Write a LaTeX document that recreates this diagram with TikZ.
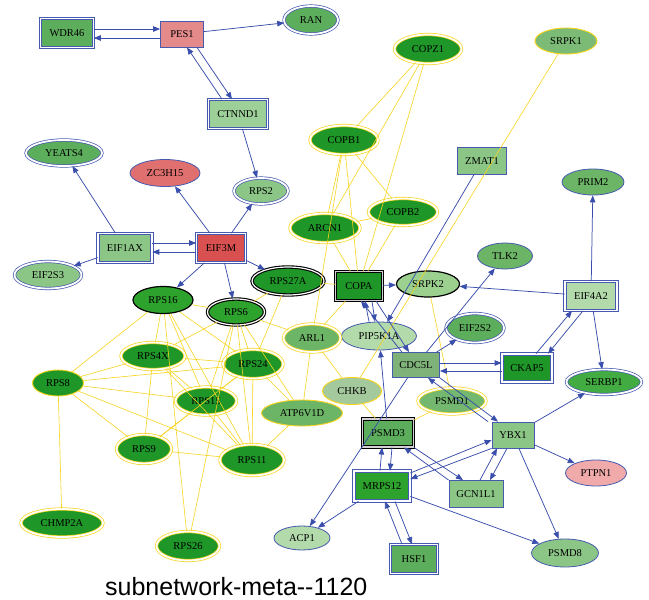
\documentclass[tikz,border=0pt]{standalone}
\usepackage{fontspec}
\setmainfont{Liberation Serif}
\newfontfamily\titlefont{Liberation Sans}
\usetikzlibrary{shapes.geometric,arrows.meta}
\definecolor{eblue}{RGB}{58,78,172}
\definecolor{nblue}{RGB}{70,90,175}
\definecolor{eyel}{RGB}{248,212,30}
\definecolor{dkg}{RGB}{30,150,40}
\definecolor{rg}{RGB}{45,162,45}
\definecolor{mg}{RGB}{92,173,92}
\definecolor{g2}{RGB}{108,180,102}
\definecolor{lg}{RGB}{140,198,134}
\definecolor{vlg}{RGB}{178,218,170}
\definecolor{sg}{RGB}{155,208,143}
\definecolor{pes}{RGB}{228,138,138}
\definecolor{redm}{RGB}{217,80,80}
\definecolor{zc}{RGB}{224,112,112}
\definecolor{ptp}{RGB}{240,170,170}
\begin{document}
\begin{tikzpicture}[x=1pt,y=-1pt,
  every node/.style={inner sep=0pt, font=\fontsize{10.5}{12}\selectfont},
  rb/.style={rectangle, draw=nblue, line width=0.8pt},
  rdb/.style={rectangle, draw=nblue, double=white, double distance=1.8pt, line width=0.7pt},
  rbk/.style={rectangle, draw=black, double=gray!35, double distance=1.4pt, line width=1pt},
  eb/.style={ellipse, draw=nblue, line width=0.8pt},
  edb/.style={ellipse, draw=nblue, double=white, double distance=1.8pt, line width=0.7pt},
  ey/.style={ellipse, draw=eyel, line width=0.9pt},
  edy/.style={ellipse, draw=eyel, double=white, double distance=1.8pt, line width=0.7pt},
  ebk/.style={ellipse, draw=black, line width=1.2pt},
  ebt/.style={ellipse, draw=black, double=white, double distance=1.2pt, line width=1.1pt},
  be/.style={draw=eblue, line width=0.75pt, -{Triangle[length=7pt,width=5.5pt]}},
  ye/.style={draw=eyel, line width=0.6pt}
]
\fill[white] (0,0) rectangle (649,600);
\useasboundingbox (0,0) rectangle (649,600);

% rectangles, double blue
\node[rdb, fill=mg, minimum width=53, minimum height=29] (WDR46) at (67,33) {WDR46};
\node[rdb, fill=lg!85!white, minimum width=59, minimum height=29] (CTNND1) at (238,114) {CTNND1};
\node[rdb, fill=lg, minimum width=54, minimum height=29] (EIF1AX) at (125,248) {EIF1AX};
\node[rdb, fill=redm, minimum width=49, minimum height=29] (EIF3M) at (221,248) {EIF3M};
\node[rdb, fill=vlg, minimum width=52, minimum height=29] (EIF4A2) at (591,296) {EIF4A2};
\node[rdb, fill=dkg, minimum width=50, minimum height=28] (CKAP5) at (527,368) {CKAP5};
\node[rdb, fill=rg, minimum width=56, minimum height=30] (MRPS12) at (382,486) {MRPS12};
\node[rdb, fill=mg, minimum width=47, minimum height=29] (HSF1) at (414,559) {HSF1};
% rectangles, single blue
\node[rb, fill=pes, minimum width=43, minimum height=26] (PES1) at (182,34) {PES1};
\node[rb, fill=lg, minimum width=49, minimum height=27] (ZMAT1) at (482,161) {ZMAT1};
\node[rb, fill=lg!90!black, minimum width=47, minimum height=25] (CDC5L) at (416,365) {CDC5L};
\node[rb, fill=lg, minimum width=42, minimum height=26] (YBX1) at (513,435) {YBX1};
\node[rb, fill=lg, minimum width=54, minimum height=27] (GCN1L1) at (476,494) {GCN1L1};
% rectangles, double black
\node[rbk, fill=dkg, minimum width=47, minimum height=29] (COPA) at (359,286) {COPA};
\node[rbk, fill=mg, minimum width=51, minimum height=28] (PSMD3) at (388,433) {PSMD3};
% ellipses, double blue
\node[edb, fill=mg, minimum width=54, minimum height=28] (RAN) at (311,20) {RAN};
\node[edb, fill=mg, minimum width=76, minimum height=26] (YEATS4) at (64,153) {YEATS4};
\node[edb, fill=lg, minimum width=54, minimum height=26] (RPS2) at (261,191) {RPS2};
\node[edb, fill=lg, minimum width=67, minimum height=27] (EIF2S3) at (48,275) {EIF2S3};
\node[edb, fill=mg, minimum width=58, minimum height=29] (EIF2S2) at (475,328) {EIF2S2};
\node[edb, fill=rg!90!white, minimum width=75, minimum height=25] (SERBP1) at (604,382) {SERBP1};
% ellipses, single blue
\node[eb, fill=zc, minimum width=70, minimum height=27] (ZC3H15) at (165,173) {ZC3H15};
\node[eb, fill=g2, minimum width=62, minimum height=26] (PRIM2) at (593,182) {PRIM2};
\node[eb, fill=g2, minimum width=55, minimum height=26] (TLK2) at (505,256) {TLK2};
\node[eb, fill=vlg, minimum width=75, minimum height=28] (PIP5K1A) at (379,336) {PIP5K1A};
\node[eb, fill=ptp, minimum width=61, minimum height=26] (PTPN1) at (596,473) {PTPN1};
\node[eb, fill=vlg, minimum width=56, minimum height=24] (ACP1) at (302,538) {ACP1};
\node[eb, fill=lg, minimum width=67, minimum height=28] (PSMD8) at (565,553) {PSMD8};
% ellipses, double yellow
\node[edy, fill=dkg, minimum width=67, minimum height=29] (COPZ1) at (428,49) {COPZ1};
\node[edy, fill=dkg, minimum width=68, minimum height=29] (COPB1) at (344,140) {COPB1};
\node[edy, fill=dkg, minimum width=69, minimum height=27] (COPB2) at (403,212) {COPB2};
\node[edy, fill=dkg, minimum width=70, minimum height=29] (ARCN1) at (325,228) {ARCN1};
\node[edy, fill=g2, minimum width=57, minimum height=28] (ARL1) at (312,338) {ARL1};
\node[edy, fill=g2!95!white, minimum width=68, minimum height=26] (PSMD1) at (452,401) {PSMD1};
\node[edy, fill=dkg, minimum width=64, minimum height=27] (RPS4X) at (153,356) {RPS4X};
\node[edy, fill=dkg, minimum width=60, minimum height=29] (RPS24) at (253,364) {RPS24};
\node[edy, fill=dkg, minimum width=61, minimum height=28] (RPS15) at (206,401) {RPS15};
\node[edy, fill=dkg, minimum width=55, minimum height=29] (RPS9) at (144,449) {RPS9};
\node[edy, fill=dkg, minimum width=64, minimum height=31] (RPS11) at (252,460) {RPS11};
\node[edy, fill=dkg, minimum width=82, minimum height=28] (CHMP2A) at (62,523) {CHMP2A};
\node[edy, fill=dkg, minimum width=63, minimum height=29] (RPS26) at (188,546) {RPS26};
% ellipses, single yellow
\node[ey, fill=g2!90!white, minimum width=62, minimum height=26] (SRPK1) at (566,41) {SRPK1};
\node[ey, fill=dkg, minimum width=51, minimum height=26] (RPS8) at (58,383) {RPS8};
\node[ey, fill=g2, minimum width=81, minimum height=26] (ATP6V1D) at (302,413) {ATP6V1D};
\node[ey, fill=vlg!92!black, minimum width=59, minimum height=27] (CHKB) at (352,391) {CHKB};
% ellipses, black
\node[ebk, fill=rg, minimum width=60, minimum height=27] (RPS16) at (163,300) {RPS16};
\node[ebk, fill=sg, minimum width=63, minimum height=26] (SRPK2) at (428,284) {SRPK2};
\node[ebt, fill=dkg, minimum width=72, minimum height=28] (RPS27A) at (288,281) {RPS27A};
\node[ebt, fill=rg, minimum width=57, minimum height=26] (RPS6) at (236,312) {RPS6};

% title
\node[anchor=base west, font=\titlefont\fontsize{25}{30}\selectfont] (title) at (105,595) {subnetwork-meta--1120};

% yellow edges
\foreach \a/\b in {COPZ1/COPB1, COPZ1/ARCN1, COPZ1/COPA,
  COPB1/COPB2, COPB1/COPA, COPB1/ARL1, COPB1/ARCN1,
  ARCN1/COPB2, ARCN1/COPA, COPB2/COPA, SRPK1/CHKB,
  COPA/RPS27A, COPA/ARL1, SRPK2/PSMD1, CHKB/PSMD3, PSMD1/PSMD3,
  ARL1/CHKB, ARL1/ATP6V1D, RPS6/ARL1,
  RPS16/RPS6, RPS16/RPS8, RPS16/RPS4X, RPS16/RPS15, RPS16/RPS11, RPS16/RPS24, RPS16/RPS26,
  RPS6/RPS4X, RPS6/RPS24, RPS6/RPS15, RPS6/RPS11, RPS6/ATP6V1D, RPS6/RPS26, RPS6/RPS27A,
  RPS27A/RPS24, RPS4X/RPS8, RPS4X/RPS24, RPS4X/RPS15, RPS4X/RPS9, RPS4X/RPS11,
  RPS24/RPS15, RPS24/RPS11, RPS24/RPS9, RPS24/RPS8, RPS24/ATP6V1D,
  RPS8/RPS15, RPS8/RPS9, RPS8/RPS11, RPS8/CHMP2A,
  RPS15/RPS9, RPS15/RPS11, RPS9/RPS11, RPS11/ATP6V1D}
  {\draw[ye] (\a) -- (\b);}

% blue edges
\draw[be] ([yshift=4pt]WDR46.east) -- ([yshift=5pt]PES1.west);
\draw[be] ([yshift=-4pt]PES1.west) -- ([yshift=-5pt]WDR46.east);
\draw[be] (PES1) -- (RAN);
\draw[be] ([xshift=15pt]PES1.south) -- ([xshift=-6pt]CTNND1.north);
\draw[be] ([xshift=-16pt]CTNND1.north) -- ([xshift=5pt]PES1.south);
\draw[be] (CTNND1) -- (RPS2);
\draw[be] (EIF1AX) -- (YEATS4);
\draw[be] (EIF3M) -- (ZC3H15);
\draw[be] (EIF3M) -- (RPS2);
\draw[be] ([yshift=5pt]EIF1AX.east) -- ([yshift=5pt]EIF3M.west);
\draw[be] ([yshift=-4pt]EIF3M.west) -- ([yshift=-4pt]EIF1AX.east);
\draw[be] (EIF1AX) -- (EIF2S3);
\draw[be] (EIF3M) -- (RPS16);
\draw[be] (EIF3M) -- (RPS6);
\draw[be] (EIF3M) -- (RPS27A);
\draw[be] (COPA) -- (SRPK2);
\draw[be] (ZMAT1) -- (PIP5K1A);
\draw[be] (EIF4A2) -- (SRPK2);
\draw[be] (EIF4A2) -- (PRIM2);
\draw[be] (EIF4A2) -- (SERBP1);
\draw[be] (CDC5L) -- (TLK2);
\draw[be] (CDC5L) -- (EIF2S2);
\draw[be] ([yshift=2pt]CDC5L.east) -- ([yshift=5pt]CKAP5.west);
\draw[be] ([yshift=-3pt]CKAP5.west) -- ([yshift=-6pt]CDC5L.east);
\draw[be] ([xshift=9pt]CKAP5.north) -- ([xshift=-19pt]EIF4A2.south);
\draw[be] ([xshift=-8pt]EIF4A2.south) -- ([xshift=21pt]CKAP5.north);
\draw[be] ([xshift=-10pt]PIP5K1A.north) -- ([xshift=6pt]COPA.south);
\draw[be] ([xshift=13pt]COPA.south) -- ([xshift=-4pt]PIP5K1A.north);
\draw[be] ([xshift=-14pt]CDC5L.north) -- ([xshift=2pt]COPA.south);
\draw[be] ([xshift=17pt]COPA.south) -- ([xshift=-7pt]CDC5L.north);
\draw[be] (PSMD3) -- (PIP5K1A);
\draw[be] (CDC5L) -- (ACP1);
\draw[be] (MRPS12) -- (ACP1);
\draw[be] (CDC5L.south east) -- ([xshift=-15pt]YBX1.north);
\draw[be] ([xshift=-25pt]YBX1.north) -- ([xshift=12pt]CDC5L.south);
\draw[be] (YBX1) -- (SERBP1);
\draw[be] (YBX1) -- (PTPN1);
\draw[be] (YBX1) -- (PSMD8);
\draw[be] ([yshift=13pt]MRPS12.east) -- ([yshift=-5pt]YBX1.west);
\draw[be] (YBX1.south west) -- ([yshift=7pt]MRPS12.east);
\draw[be] ([xshift=4pt]GCN1L1.north) -- ([xshift=-16pt]YBX1.south);
\draw[be] ([xshift=-6pt]YBX1.south) -- ([xshift=14pt]GCN1L1.north);
\draw[be] ([xshift=-2pt]MRPS12.north) -- ([xshift=-6pt]PSMD3.south);
\draw[be] ([xshift=4pt]PSMD3.south) -- ([xshift=8pt]MRPS12.north);
\draw[be] (PSMD3.south east) -- ([xshift=-13pt]GCN1L1.north);
\draw[be] (GCN1L1.north west) -- ([xshift=16pt]PSMD3.south);
\draw[be] ([xshift=-12pt]HSF1.north) -- ([xshift=3pt]MRPS12.south);
\draw[be] ([xshift=13pt]MRPS12.south) -- ([xshift=-2pt]HSF1.north);
\draw[be] (MRPS12) -- (PSMD8);
\end{tikzpicture}
\end{document}
